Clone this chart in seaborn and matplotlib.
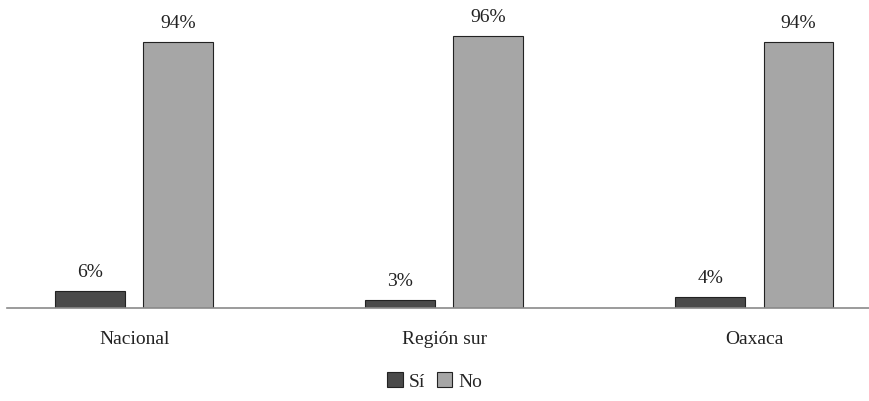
import matplotlib
matplotlib.use("Agg")
import matplotlib.pyplot as plt
import seaborn as sns
import pandas as pd

# Datos
regiones = ["Nacional", "Región sur", "Oaxaca"]
si = [6, 3, 4]
no = [94, 96, 94]
respuestas = ["Sí", "No"]
colores = ["#4a4a4a", "#a6a6a6"]

df = pd.DataFrame({
    "Región": regiones * 2,
    "Respuesta": ["Sí"] * len(regiones) + ["No"] * len(regiones),
    "Porcentaje": si + no,
})

sns.set_style("white")
plt.rcParams["font.family"] = ["Liberation Serif", "DejaVu Serif"]

fig = plt.figure(figsize=(8.69, 4.02), dpi=100)
ax = fig.add_axes([0.008, 0.231, 0.992, 0.704])

sns.barplot(data=df, x="Región", y="Porcentaje", hue="Respuesta",
            hue_order=respuestas, order=regiones, palette=colores,
            width=0.57, gap=0.21, edgecolor="#222222", linewidth=0.8,
            legend=False, ax=ax)

for cont in ax.containers:
    ax.bar_label(cont, labels=[f"{v:.0f}%" for v in cont.datavalues],
                 padding=8, fontsize=14, color="#222222")

ax.set_ylim(0, 100)
ax.set_xlim(-0.41, 2.37)
ax.set_xlabel("")
ax.set_ylabel("")
ax.set_yticks([])
ax.tick_params(axis="x", length=0, pad=16, labelsize=14, colors="#222222")
for s in ["top", "right", "left"]:
    ax.spines[s].set_visible(False)
ax.spines["bottom"].set_color("#8a8a8a")
ax.spines["bottom"].set_linewidth(1.2)

handles = [plt.Rectangle((0, 0), 1, 1, facecolor=c, edgecolor="#222222", linewidth=0.8)
           for c in colores]
fig.legend(handles, respuestas, loc="center", bbox_to_anchor=(0.5, 0.05),
           ncol=2, frameon=False, fontsize=14, handlelength=0.8, handleheight=0.8,
           handletextpad=0.3, columnspacing=0.6)

fig.savefig("out.png", dpi=100)
